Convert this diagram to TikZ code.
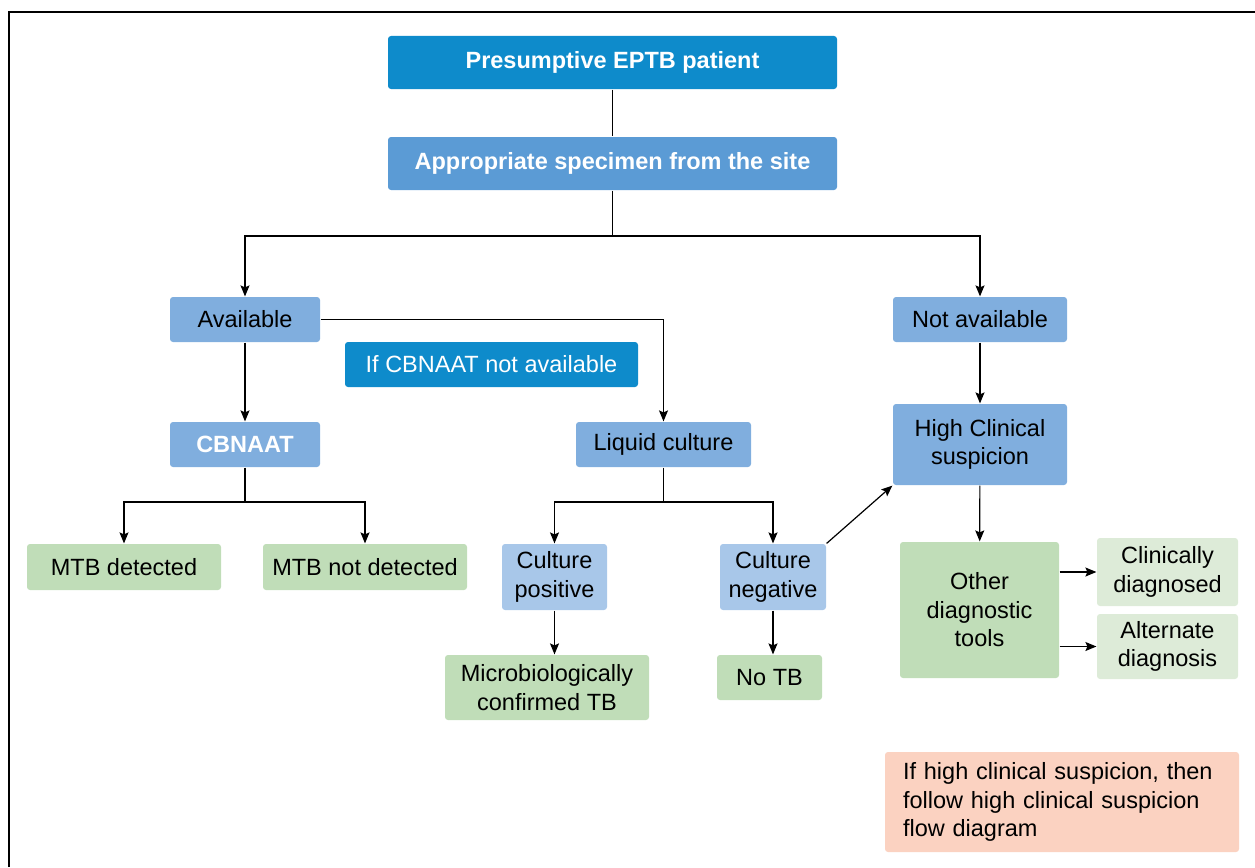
\documentclass[tikz,border=0pt]{standalone}
\usepackage{fontspec}
\setmainfont{Liberation Sans}
\usepackage{xcolor}
\usetikzlibrary{arrows.meta,positioning,calc}

\definecolor{topblue}{HTML}{0E8BCB}
\definecolor{midblue}{HTML}{5B9BD5}
\definecolor{lightblue}{HTML}{80AEDE}
\definecolor{paleblue}{HTML}{A8C7E9}
\definecolor{boxgreen}{HTML}{C0DDB8}
\definecolor{palegreen}{HTML}{DDEBD8}
\definecolor{salmon}{HTML}{FBD2C1}

\begin{document}
\begin{tikzpicture}[x=1pt,y=-1pt,->,>={Stealth[length=11pt,width=9pt,inset=2pt]},
line width=1.2pt, font=\fontsize{23.5}{28.5}\selectfont]

\tikzset{box/.style={rectangle, rounded corners=3pt, draw=none, inner sep=0pt,
text=black, align=center},
headbox/.style={box, fill=topblue, text=white, font=\fontsize{23.5}{28.5}\selectfont\bfseries},
bluebox/.style={box, fill=lightblue},
greenbox/.style={box, fill=boxgreen}}

\useasboundingbox (0,0) rectangle (1255,867);

% frame
\draw[-, line width=1.6pt] (9,867) -- (9,12) -- (1255,12);

% top of the tree
\node[headbox, minimum width=449pt, minimum height=53pt]
(pres) at (612.5,62.5)
{Presumptive EPTB patient};

\node[headbox, fill=midblue, minimum width=449pt, minimum height=53pt]
(spec) at (612.5,163.5)
{Appropriate specimen from the site};

\node[bluebox, minimum width=150pt, minimum height=45pt]
(avail) at (245,319.5)
{Available};

\node[bluebox, minimum width=174pt, minimum height=45pt]
(navail) at (980,319.5)
{Not available};

\node[box, fill=topblue, text=white, minimum width=293pt, minimum height=45pt]
(ifcb) at (491.5,364.5)
{If CBNAAT not available};

% CBNAAT branch
\node[bluebox, text=white, font=\fontsize{23.5}{28.5}\selectfont\bfseries,
minimum width=150pt, minimum height=45pt]
(cbn) at (245,444.5)
{CBNAAT};

\node[greenbox, minimum width=194pt, minimum height=46pt]
(mtbd) at (124,567)
{MTB detected};

\node[greenbox, minimum width=204pt, minimum height=46pt]
(mtbn) at (365,567)
{MTB not detected};

% culture branch
\node[bluebox, minimum width=175pt, minimum height=45pt]
(liq) at (663.5,444.5)
{Liquid culture};

\node[box, fill=paleblue, minimum width=105pt, minimum height=66pt]
(cpos) at (554.5,577)
{Culture\\positive};

\node[box, fill=paleblue, minimum width=106pt, minimum height=66pt]
(cneg) at (773,577)
{Culture\\negative};

\node[greenbox, minimum width=204pt, minimum height=65pt]
(micro) at (547,687.5)
{Microbiologically\\confirmed TB};

\node[greenbox, minimum width=105pt, minimum height=45pt]
(notb) at (769.5,677.5)
{No TB};

% clinical branch
\node[bluebox, minimum width=174pt, minimum height=81pt]
(hcs) at (980,444.5)
{High Clinical\\suspicion};

\node[greenbox, minimum width=159pt, minimum height=136pt]
(odt) at (979.5,610)
{Other\\diagnostic\\tools};

\node[box, fill=palegreen, minimum width=141pt, minimum height=68pt]
(cdx) at (1167.5,572)
{Clinically\\diagnosed};

\node[box, fill=palegreen, minimum width=141pt, minimum height=65pt]
(adx) at (1167.5,646.5)
{Alternate\\diagnosis};

\node[box, fill=salmon, minimum width=354pt, minimum height=100pt,
text width=318pt, align=left]
(note) at (1062,802)
{If high clinical suspicion, then\\follow high clinical suspicion\\flow diagram};

% connectors
\coordinate (s1) at (612.5,236);
\coordinate (s2) at (245,502);
\coordinate (s3) at (663.5,502);

\draw[-] (pres) -- (spec);
\draw[-] (spec) -- (s1);
\draw (s1) -| (avail);
\draw (s1) -| (navail);

\draw (avail) -- (cbn);
\draw (avail.east) -| (liq);

\draw[-] (cbn) -- (s2);
\draw (s2) -| (mtbd);
\draw (s2) -| (mtbn);

\draw[-] (liq) -- (s3);
\draw (s3) -| (cpos);
\draw (s3) -| (cneg);

\draw (cpos.south) -- (cpos.south |- micro.north);
\draw (cneg.south) -- (cneg.south |- notb.north);
\draw (cneg.north east) -- (hcs.south west);

\draw (navail) -- (hcs);
\draw (hcs) -- (odt);
\draw (odt.east |- cdx.west) -- (cdx.west);
\draw (odt.east |- adx.west) -- (adx.west);

\end{tikzpicture}
\end{document}
